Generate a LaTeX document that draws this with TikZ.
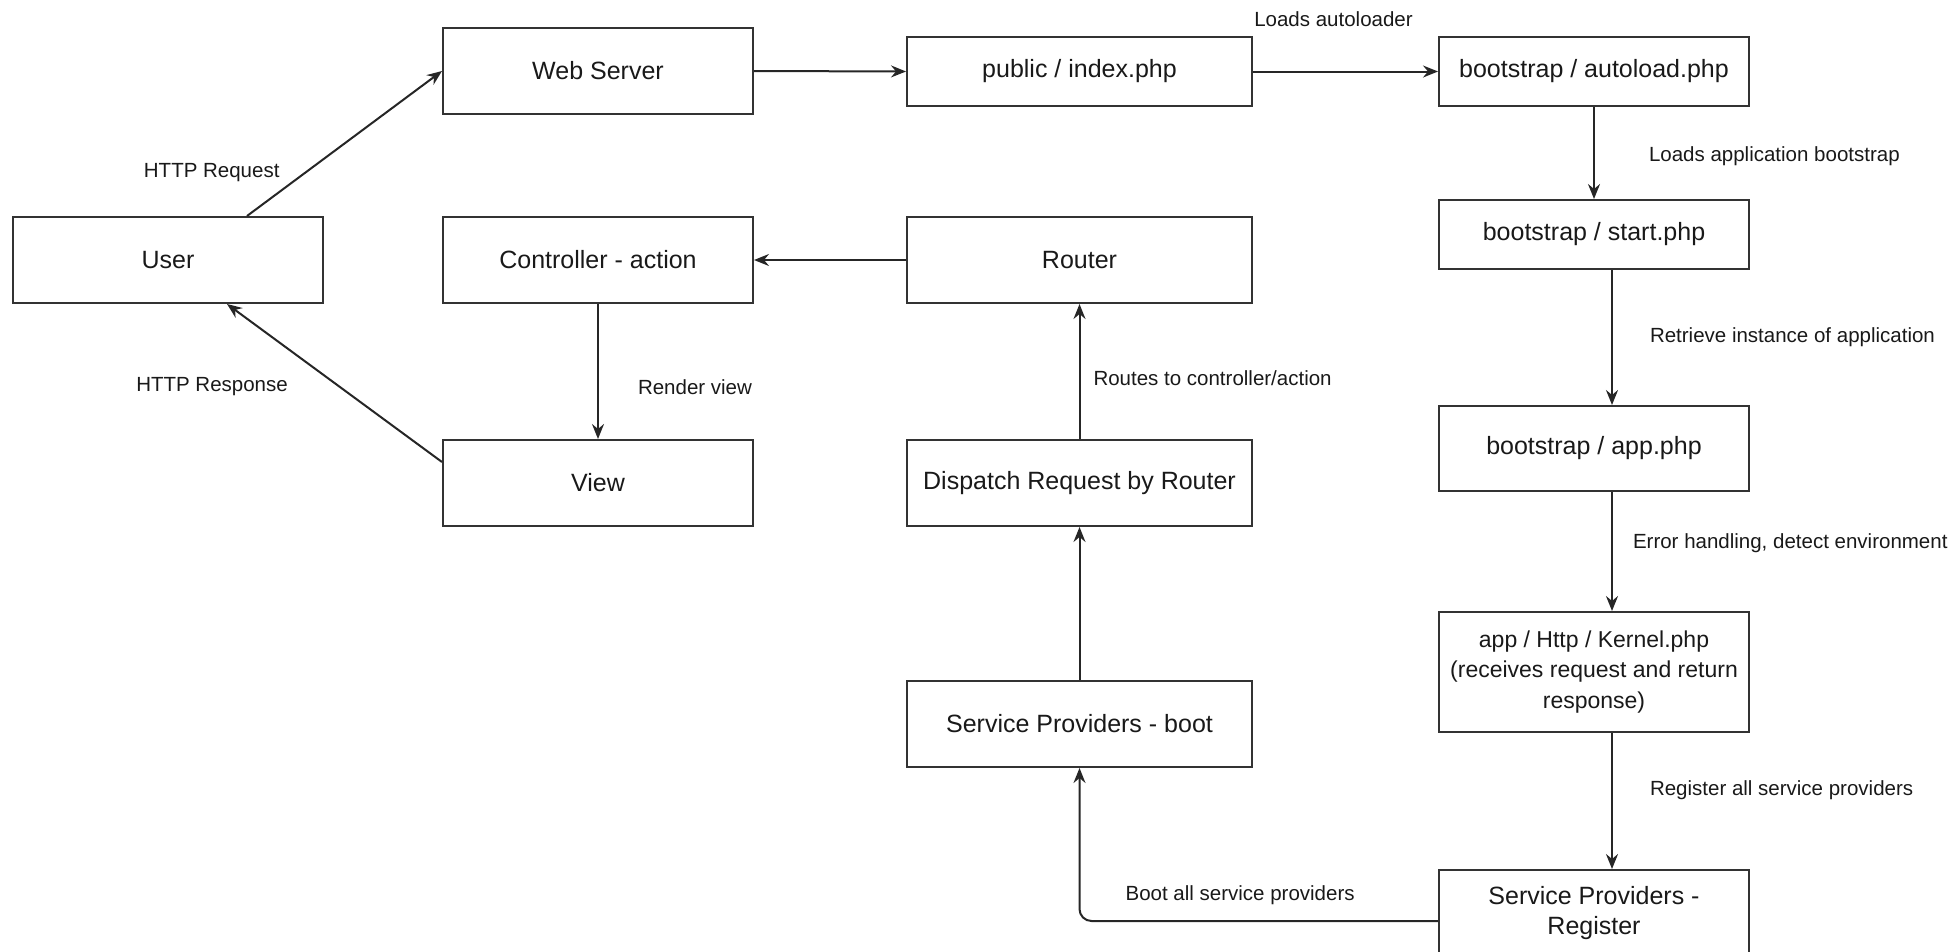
\documentclass[tikz,border=0pt]{standalone}
\usepackage{fontspec}
\setmainfont{Liberation Sans}
\usetikzlibrary{arrows.meta}

\begin{document}
\begin{tikzpicture}[x=1pt, y=-1pt,
    every node/.style={text=black!90},
    box/.style={draw=black!80, line width=2pt, minimum width=310pt, minimum height=86pt,
        inner sep=0pt, align=center, font=\fontsize{25}{30.5}\selectfont},
    wide/.style={minimum width=345pt},
    flat/.style={minimum height=69pt},
    lbl/.style={inner sep=0pt, font=\fontsize{20.5}{24}\selectfont},
    arr/.style={draw=black!85, line width=2pt, -{Stealth[length=15pt, width=12pt, inset=5pt]}}]
    \useasboundingbox (0,0) rectangle (1959,951);
    \node[box] (user) at (168,260) {User};
    \node[box] (web) at (598,71) {Web Server};
    \node[box, wide, flat] (index) at (1079.5,71.5) {public / index.php};
    \node[box, flat] (autoload) at (1594,71.5) {bootstrap / autoload.php};
    \node[box] (ctrl) at (598,260) {Controller - action};
    \node[box, wide] (router) at (1079.5,260) {Router};
    \node[box, flat] (start) at (1594,234.5) {bootstrap / start.php};
    \node[box] (view) at (598,483) {View};
    \node[box, wide] (dispatch) at (1079.5,483) {Dispatch Request by Router};
    \node[box, minimum height=85pt] (app) at (1594,448.5) {bootstrap / app.php};
    \node[box, wide] (boot) at (1079.5,724) {Service Providers - boot};
    \node[box, minimum height=120pt, font=\fontsize{23}{30.5}\selectfont] (kernel) at (1594,672)
        {app / Http / Kernel.php\\(receives request and return\\response)};
    \node[box] (register) at (1594,913) {Service Providers -\\Register};
    \draw[arr] ([xshift=79pt]user.north) -- (web.west)
        node[lbl, pos=0.3, anchor=east, xshift=-25pt] (lreq) {HTTP Request};
    \draw[arr] (web.east) -- (index.west);
    \draw[arr] (index.east) -- (autoload.west)
        node[lbl, midway, xshift=-12pt, yshift=52pt] (lauto) {Loads autoloader};
    \draw[arr] (autoload.south) -- (start.north)
        node[lbl, midway, anchor=west, xshift=54pt, yshift=-3pt] (lboot) {Loads application bootstrap};
    \draw[arr] ([xshift=18pt]start.south) -- ([xshift=18pt]app.north)
        node[lbl, midway, anchor=west, xshift=37pt] (linst) {Retrieve instance of application};
    \draw[arr] ([xshift=18pt]app.south) -- ([xshift=18pt]kernel.north)
        node[lbl, midway, anchor=west, xshift=20pt, yshift=8pt] (lerr) {Error handling, detect environment};
    \draw[arr] ([xshift=18pt]kernel.south) -- ([xshift=18pt]register.north)
        node[lbl, midway, anchor=west, xshift=37pt, yshift=11pt] (lreg) {Register all service providers};
    \draw[arr, rounded corners=12pt] ([yshift=-8pt]register.west) -| (boot.south)
        node[lbl, pos=0.276, yshift=26pt] (lbootall) {Boot all service providers};
    \draw[arr] (boot.north) -- (dispatch.south);
    \draw[arr] (dispatch.north) -- (router.south)
        node[lbl, midway, anchor=west, xshift=13pt, yshift=-7pt] (lroute) {Routes to controller/action};
    \draw[arr] (router.west) -- (ctrl.east);
    \draw[arr] (ctrl.south) -- (view.north)
        node[lbl, midway, anchor=west, xshift=39pt, yshift=-16pt] (lrender) {Render view};
    \draw[arr] ([yshift=21pt]view.west) -- ([xshift=59pt]user.south)
        node[lbl, pos=0.48, anchor=east, xshift=-50pt] (lresp) {HTTP Response};
\end{tikzpicture}
\end{document}
